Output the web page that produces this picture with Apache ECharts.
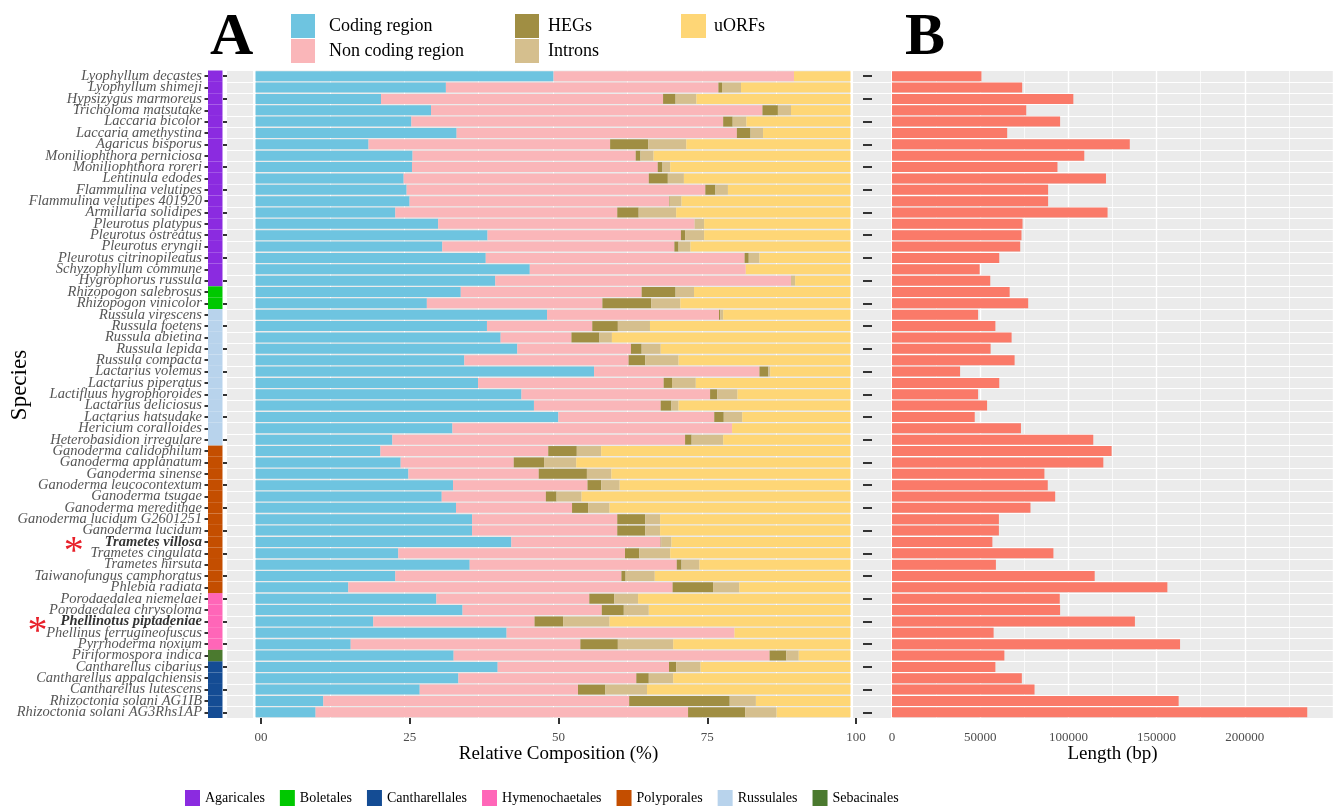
<!DOCTYPE html>
<html>
<head>
<meta charset="utf-8">
<script src="https://cdn.jsdelivr.net/npm/echarts@6/dist/echarts.min.js"></script>
<style>html,body{margin:0;padding:0;background:#fff}#main{width:1333px;height:808px}</style>
</head>
<body>
<div id="main"></div>
<script>
var species = ['Lyophyllum decastes','Lyophyllum shimeji','Hypsizygus marmoreus','Tricholoma matsutake','Laccaria bicolor',
  'Laccaria amethystina','Agaricus bisporus','Moniliophthora perniciosa','Moniliophthora roreri','Lentinula edodes',
  'Flammulina velutipes','Flammulina velutipes 401920','Armillaria solidipes','Pleurotus platypus','Pleurotus ostreatus',
  'Pleurotus eryngii','Pleurotus citrinopileatus','Schyzophyllum commune','Hygrophorus russula','Rhizopogon salebrosus',
  'Rhizopogon vinicolor','Russula virescens','Russula foetens','Russula abietina','Russula lepida',
  'Russula compacta','Lactarius volemus','Lactarius piperatus','Lactifluus hygrophoroides','Lactarius deliciosus',
  'Lactarius hatsudake','Hericium coralloides','Heterobasidion irregulare','Ganoderma calidophilum','Ganoderma applanatum',
  'Ganoderma sinense','Ganoderma leucocontextum','Ganoderma tsugae','Ganoderma meredithae','Ganoderma lucidum G2601251',
  'Ganoderma lucidum','Trametes villosa','Trametes cingulata','Trametes hirsuta','Taiwanofungus camphoratus',
  'Phlebia radiata','Porodaedalea niemelaei','Porodaedalea chrysoloma','Phellinotus piptadeniae','Phellinus ferrugineofuscus',
  'Pyrrhoderma noxium','Piriformospora indica','Cantharellus cibarius','Cantharellus appalachiensis','Cantharellus lutescens',
  'Rhizoctonia solani AG1IB','Rhizoctonia solani AG3Rhs1AP'];

// relative composition (%)
var coding = [50.1,32.0,21.1,29.5,26.2,33.8,19.0,26.4,26.3,24.9,25.4,25.9,23.5,30.7,39.0,31.4,38.7,46.1,40.3,34.5,
  28.8,49.0,38.9,41.2,44.0,35.1,56.9,37.4,44.7,46.8,50.9,33.1,23.0,21.0,24.4,25.7,33.2,31.3,33.7,36.4,
  36.4,43.0,24.0,36.0,23.5,15.6,30.4,34.8,19.8,42.2,16.0,33.3,40.7,34.1,27.6,11.4,10.1];
var noncoding = [40.4,45.8,47.4,55.7,52.4,47.1,40.6,37.5,41.3,41.2,50.2,43.6,37.3,43.1,32.5,39.0,43.5,36.3,49.7,30.4,
  29.5,28.9,17.7,11.9,19.1,27.6,27.8,31.2,31.7,21.3,26.2,47.0,49.2,28.2,19.0,21.9,22.6,17.5,19.5,24.4,
  24.4,25.1,38.1,34.8,38.0,54.5,25.7,23.4,27.1,38.3,38.6,53.1,28.8,29.9,26.6,51.4,62.6];
var hegs = [0,0.6,2.1,2.6,1.6,2.3,6.4,0.8,0.8,3.2,1.7,0.1,3.6,0,0.7,0.7,0.7,0,0,5.7,
  8.2,0.2,4.3,4.7,1.8,2.8,1.5,1.4,1.2,1.8,1.6,0,1.1,4.8,5.1,8.1,2.3,1.8,2.7,4.7,
  4.7,0.1,2.4,0.8,0.7,6.8,4.2,3.7,4.8,0,6.3,2.8,1.2,2.1,4.6,16.9,9.6];
var introns = [0,3.2,3.5,2.2,2.3,2.1,6.4,2.2,1.3,2.7,2.1,2.0,6.3,1.6,3.2,2.0,1.8,0,0.7,3.1,
  4.9,0.5,5.4,2.1,3.2,5.6,0.3,4.0,3.4,1.2,3.1,0,5.3,4.1,5.4,4.1,3.1,4.2,3.6,2.5,
  2.5,1.7,5.2,3.0,4.9,4.4,4.0,4.2,7.8,0,9.3,2.1,4.1,4.1,7.0,4.4,5.3];
var uorfs = [9.5,18.4,25.9,10.0,17.5,14.7,27.6,33.1,30.3,28.0,20.6,28.4,29.3,24.6,24.6,26.9,15.3,17.6,9.3,26.3,
  28.6,21.4,33.7,40.1,31.9,28.9,13.5,26.0,19.0,28.9,18.2,19.9,21.4,41.9,46.1,40.2,38.8,45.2,40.5,32.0,
  32.0,30.1,30.3,25.4,32.9,18.7,35.7,33.9,40.5,19.5,29.8,8.7,25.2,29.8,34.2,15.9,12.4];

// mitogenome length (bp)
var genomeLength = [50700,73800,102800,76100,95300,65300,134800,109000,93800,121300,
  88500,88500,122200,74000,73400,72700,60800,49700,55700,66700,
  77200,48800,58600,67800,55900,69500,38600,60800,48800,53900,
  46900,73100,114100,124500,119800,86400,88300,92500,78500,60600,
  60600,56900,91500,58900,114900,156100,95100,95300,137700,57600,
  163300,63700,58600,73600,80800,162500,235400];

// order strip: consecutive blocks from top
var blockOrder = ['Agaricales','Boletales','Russulales','Polyporales','Hymenochaetales','Sebacinales','Cantharellales'];
var blockSize = [19,2,12,13,5,1,5];
var orderNames = ['Agaricales','Boletales','Cantharellales','Hymenochaetales','Polyporales','Russulales','Sebacinales'];
var orderColors = ['#8B2BE0','#00C800','#144C94','#FF66B8','#C44E00','#B8D3EC','#4B7A2F'];

var FONT = "'Liberation Serif','Times New Roman',serif";
var GRAY = '#EBEBEB';
var TOP = 70.5, HEIGHT = 647.5;

var speciesOrder = [];
for (var b = 0; b < blockOrder.length; b++) {
    for (var k = 0; k < blockSize[b]; k++) speciesOrder.push(blockOrder[b]);
}

var chart = echarts.init(document.getElementById('main'));

function catAxis(gi, extra) {
    var ax = {
        type: 'category', gridIndex: gi, data: species, inverse: true,
        axisLine: {show: false}, axisTick: {show: false}, axisLabel: {show: false},
        splitLine: {show: false}
    };
    for (var key in extra) ax[key] = extra[key];
    return ax;
}
var tickStyle = {color: '#333', width: 2};
var whiteRows = {show: true, interval: 0, lineStyle: {color: '#fff', width: 1}};

var series = [];
// order strip
orderNames.forEach(function (o, i) {
    series.push({
        name: o, type: 'bar', stack: 'order', xAxisIndex: 0, yAxisIndex: 0,
        barWidth: '100%', itemStyle: {color: orderColors[i]},
        data: speciesOrder.map(function (s) { return s === o ? 1 : '-'; })
    });
});
// composition
var compNames = ['Coding region','Non coding region','HEGs','Introns','uORFs'];
var compData = [coding, noncoding, hegs, introns, uorfs];
var compColors = ['#6EC4E0','#FAB6B9','#A08E43','#D5BF8E','#FED676'];
compNames.forEach(function (n, i) {
    series.push({
        name: n, type: 'bar', stack: 'comp', xAxisIndex: 2, yAxisIndex: 2,
        barCategoryGap: '12%', itemStyle: {color: compColors[i]},
        data: compData[i]
    });
});
// length
series.push({
    name: 'Length', type: 'bar', xAxisIndex: 4, yAxisIndex: 4,
    barCategoryGap: '12%', itemStyle: {color: '#FA7A69'}, data: genomeLength
});

var legendText = function (pad) {
    return {fontSize: 18, color: '#000', fontFamily: FONT, padding: [0, 0, 0, pad]};
};

var option = {
    animation: false,
    backgroundColor: '#fff',
    textStyle: {fontFamily: FONT},
    title: [
        {text: 'A', left: 210, top: 8, padding: 0, textStyle: {fontSize: 60, fontWeight: 'bold', fontFamily: FONT, color: '#000'}},
        {text: 'B', left: 905, top: 8, padding: 0, textStyle: {fontSize: 60, fontWeight: 'bold', fontFamily: FONT, color: '#000'}}
    ],
    graphic: [{
        type: 'text', x: 20, y: 385, rotation: Math.PI / 2,
        style: {text: 'Species', fontSize: 23, fontFamily: FONT, fill: '#000',
            align: 'center', verticalAlign: 'middle', textAlign: 'center', textVerticalAlign: 'middle'}
    }],
    legend: [
        {data: ['Coding region','Non coding region'], orient: 'vertical', left: 291, top: 14, padding: 0,
            itemWidth: 24, itemHeight: 24, itemGap: 1, icon: 'rect', selectedMode: false,
            textStyle: legendText(9)},
        {data: ['HEGs','Introns'], orient: 'vertical', left: 515, top: 14, padding: 0,
            itemWidth: 24, itemHeight: 24, itemGap: 1, icon: 'rect', selectedMode: false,
            textStyle: legendText(4)},
        {data: ['uORFs'], orient: 'vertical', left: 681, top: 14, padding: 0,
            itemWidth: 25, itemHeight: 24, itemGap: 1, icon: 'rect', selectedMode: false,
            textStyle: legendText(3)},
        {data: orderNames, orient: 'horizontal', left: 185, top: 790, padding: 0,
            itemWidth: 15, itemHeight: 16, itemGap: 15, icon: 'rect', selectedMode: false,
            textStyle: {fontSize: 14, color: '#000', fontFamily: FONT}}
    ],
    grid: [
        {left: 208, width: 14.5, top: TOP, height: HEIGHT},
        {left: 227, width: 26, top: TOP, height: HEIGHT, show: true, backgroundColor: GRAY, borderWidth: 0},
        {left: 255.5, width: 595, top: TOP, height: HEIGHT, show: true, backgroundColor: GRAY, borderWidth: 0},
        {left: 853, width: 38, top: TOP, height: HEIGHT, show: true, backgroundColor: GRAY, borderWidth: 0},
        {left: 892, width: 442, top: TOP, height: HEIGHT, show: true, backgroundColor: GRAY, borderWidth: 0},
        {left: 261, width: 595, top: TOP, height: HEIGHT}
    ],
    xAxis: [
        {type: 'value', gridIndex: 0, min: 0, max: 1, show: false},
        {type: 'value', gridIndex: 1, min: 0, max: 1, show: false},
        {type: 'value', gridIndex: 2, min: 0, max: 100, interval: 12.5,
            axisLine: {show: false}, axisTick: {show: false}, axisLabel: {show: false},
            splitLine: {lineStyle: {color: '#fff', width: 1}}},
        {type: 'value', gridIndex: 3, min: 0, max: 1, show: false},
        {type: 'value', gridIndex: 4, min: 0, max: 250000, interval: 50000,
            axisLine: {show: false},
            axisTick: {length: 6, lineStyle: tickStyle},
            axisLabel: {color: '#4D4D4D', fontSize: 13, margin: 13, fontFamily: FONT, showMaxLabel: false,
                formatter: function (v) { return String(v); }},
            splitLine: {lineStyle: {color: '#fff', width: 1.4}},
            minorTick: {show: false, splitNumber: 2},
            minorSplitLine: {show: true, lineStyle: {color: '#fff', width: 0.7}},
            name: 'Length (bp)', nameLocation: 'middle', nameGap: 27, nameMoveOverlap: false,
            nameTextStyle: {fontSize: 19, color: '#000', fontFamily: FONT}},
        {type: 'value', gridIndex: 5, min: 0, max: 100, interval: 25,
            axisLine: {show: false},
            axisTick: {length: 6, lineStyle: tickStyle},
            axisLabel: {color: '#4D4D4D', fontSize: 13, margin: 13, fontFamily: FONT,
                formatter: function (v) { return v === 0 ? '00' : String(v); }},
            splitLine: {show: false},
            name: 'Relative Composition (%)', nameLocation: 'middle', nameGap: 27, nameMoveOverlap: false,
            nameTextStyle: {fontSize: 19, color: '#000', fontFamily: FONT}}
    ],
    yAxis: [
        catAxis(0, {
            axisTick: {show: true, alignWithLabel: true, length: 3.5, lineStyle: tickStyle},
            axisLabel: {
                show: true, interval: 0, margin: 6,
                formatter: function (v) {
                    if (v === 'Trametes villosa') return '{s1|*}{b|' + v + '}';
                    if (v === 'Phellinotus piptadeniae') return '{s2|*}{b|' + v + '}';
                    return '{i|' + v + '}';
                },
                rich: {
                    i: {fontSize: 14.5, fontStyle: 'italic', color: '#555', fontFamily: FONT},
                    b: {fontSize: 14.5, fontStyle: 'italic', fontWeight: 'bold', color: '#333', fontFamily: FONT},
                    s1: {fontSize: 40, color: '#E8202A', fontFamily: FONT, padding: [22, 21, 0, 0]},
                    s2: {fontSize: 40, color: '#E8202A', fontFamily: FONT, padding: [22, 13, 0, 0]}
                }
            }
        }),
        catAxis(1, {
            axisTick: {show: true, alignWithLabel: true, length: 4, lineStyle: tickStyle},
            splitLine: whiteRows
        }),
        catAxis(2, {}),
        catAxis(3, {
            offset: -10,
            axisTick: {show: true, inside: true, alignWithLabel: true, length: 9, lineStyle: tickStyle},
            splitLine: whiteRows
        }),
        catAxis(4, {splitLine: whiteRows}),
        {type: 'value', gridIndex: 5, show: false}
    ],
    series: series
};
chart.setOption(option);
</script>
</body>
</html>
